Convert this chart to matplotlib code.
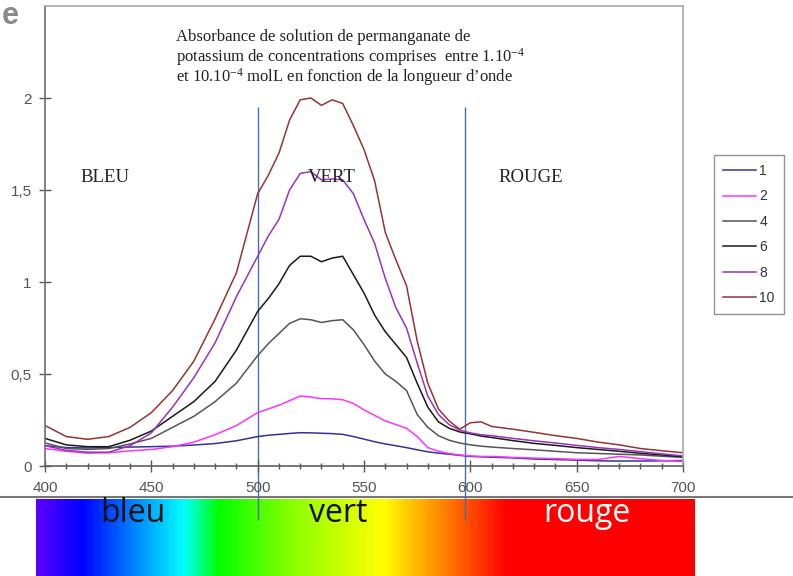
import matplotlib
matplotlib.use("Agg")
import matplotlib.pyplot as plt
import numpy as np
from matplotlib.colors import LinearSegmentedColormap
from matplotlib.lines import Line2D

plt.rcParams['font.family'] = ['Liberation Sans', 'DejaVu Sans']
plt.rcParams['mathtext.fontset'] = 'custom'
plt.rcParams['mathtext.rm'] = 'Liberation Serif'
plt.rcParams['mathtext.default'] = 'rm'

# wavelengths (nm)
wl = [400, 410, 420, 430, 440, 450, 460, 470, 480, 490,
      500, 505, 510, 515, 520, 525, 530, 535, 540, 545, 550,
      555, 560, 565, 570, 575, 580, 585, 590, 595, 600,
      605, 610, 620, 630, 640, 650, 660, 670, 680, 690, 700]

# absorbance for each concentration (x 1e-4 mol/L)
abs_1 = [0.11, 0.10, 0.098, 0.10, 0.103, 0.105, 0.108, 0.114, 0.122, 0.137,
         0.16, 0.167, 0.172, 0.177, 0.181, 0.18, 0.178, 0.176, 0.172, 0.16, 0.146,
         0.132, 0.12, 0.11, 0.10, 0.088, 0.077, 0.07, 0.064, 0.058, 0.052,
         0.05, 0.048, 0.044, 0.038, 0.035, 0.032, 0.028, 0.027, 0.027, 0.028, 0.03]
abs_2 = [0.095, 0.08, 0.07, 0.072, 0.082, 0.09, 0.105, 0.13, 0.17, 0.22,
         0.29, 0.31, 0.33, 0.355, 0.38, 0.375, 0.366, 0.365, 0.36, 0.34, 0.305,
         0.275, 0.245, 0.225, 0.205, 0.16, 0.10, 0.08, 0.068, 0.06, 0.055,
         0.052, 0.052, 0.047, 0.043, 0.04, 0.036, 0.035, 0.052, 0.04, 0.03, 0.025]
abs_4 = [0.125, 0.095, 0.09, 0.095, 0.12, 0.15, 0.21, 0.27, 0.35, 0.45,
         0.60, 0.665, 0.72, 0.775, 0.80, 0.795, 0.78, 0.79, 0.795, 0.74, 0.66,
         0.57, 0.50, 0.46, 0.41, 0.28, 0.21, 0.165, 0.14, 0.125, 0.115,
         0.108, 0.103, 0.095, 0.088, 0.08, 0.072, 0.068, 0.064, 0.06, 0.053, 0.047]
abs_6 = [0.15, 0.115, 0.105, 0.105, 0.14, 0.19, 0.27, 0.35, 0.46, 0.63,
         0.84, 0.91, 0.99, 1.09, 1.14, 1.14, 1.11, 1.13, 1.14, 1.04, 0.94,
         0.82, 0.73, 0.66, 0.59, 0.45, 0.32, 0.24, 0.205, 0.185, 0.175,
         0.163, 0.155, 0.138, 0.123, 0.112, 0.10, 0.09, 0.08, 0.069, 0.06, 0.05]
abs_8 = [0.11, 0.085, 0.075, 0.075, 0.11, 0.18, 0.32, 0.48, 0.67, 0.92,
         1.14, 1.25, 1.34, 1.50, 1.59, 1.60, 1.555, 1.56, 1.555, 1.48, 1.34,
         1.21, 1.02, 0.86, 0.75, 0.56, 0.38, 0.28, 0.225, 0.195, 0.18,
         0.17, 0.165, 0.15, 0.137, 0.125, 0.112, 0.10, 0.09, 0.078, 0.066, 0.055]
abs_10 = [0.22, 0.16, 0.145, 0.16, 0.21, 0.29, 0.41, 0.57, 0.80, 1.05,
          1.48, 1.58, 1.70, 1.88, 1.99, 2.0, 1.96, 1.99, 1.97, 1.85, 1.72,
          1.55, 1.27, 1.12, 0.98, 0.68, 0.45, 0.31, 0.245, 0.20, 0.235,
          0.24, 0.215, 0.20, 0.183, 0.165, 0.15, 0.13, 0.115, 0.095, 0.083, 0.072]

series = [abs_1, abs_2, abs_4, abs_6, abs_8, abs_10]
labels = ["1", "2", "4", "6", "8", "10"]
colors = ["#333399", "#ff33ff", "#555555", "#1a1a1a", "#9933bb", "#993333"]

zone_bounds = [500, 597.5]
zone_names = ["BLEU", "VERT", "ROUGE"]
zone_x = [416.5, 523.6, 613]

y_ticks = [0, 0.5, 1, 1.5, 2]
y_ticklabels = ["0", "0,5", "1", "1,5", "2"]

W, H = 793, 576
fig = plt.figure(figsize=(W / 100, H / 100), dpi=100)

# gray separator line behind the spectrum strip
fig.add_artist(Line2D([0, 1], [1 - 497 / H] * 2, color="#777777", lw=1.5, zorder=0))

# spectrum strip
sax = fig.add_axes([36 / W, 0, 659 / W, 77 / H], zorder=1)
stops = [(0.0, "#5a00ff"), (0.067, "#0000ff"), (0.223, "#00ffff"), (0.276, "#00ff00"),
         (0.387, "#88ff00"), (0.527, "#ffff00"), (0.602, "#ff9900"), (0.715, "#ff0000"),
         (1.0, "#ff0000")]
cmap = LinearSegmentedColormap.from_list("spec", stops)
sax.imshow(np.linspace(0, 1, 600)[None, :], aspect="auto", cmap=cmap, extent=[0, 1, 0, 1])
sax.set_axis_off()
fig.text(133 / W, 1 - 522 / H, "bleu", ha="center", va="baseline", fontsize=23,
         family="Open Sans", color="#111111", zorder=3)
fig.text(338 / W, 1 - 522 / H, "vert", ha="center", va="baseline", fontsize=23,
         family="Open Sans", color="#111111", zorder=3)
fig.text(587 / W, 1 - 522 / H, "rouge", ha="center", va="baseline", fontsize=23,
         family="Open Sans", color="white", zorder=3)

# main chart
ax = fig.add_axes([45 / W, 1 - 466 / H, 638 / W, 460 / H], zorder=2)
ax.patch.set_alpha(0)
for vals, lab, col in zip(series, labels, colors):
    ax.plot(wl, vals, color=col, lw=1.1, label=lab)

ax.vlines(zone_bounds, -0.293, 1.95, color="#4a6fa8", lw=1, clip_on=False, zorder=1)

ax.set_xlim(400, 700)
ax.set_ylim(0, 2.5)
ax.set_xticks(range(400, 701, 50))
ax.set_xticks(range(400, 701, 10), minor=True)
ax.set_yticks(y_ticks)
ax.set_yticklabels(y_ticklabels)
ax.tick_params(axis="x", which="major", direction="inout", length=9, width=1,
               color="#555555", labelsize=11, labelcolor="#555555", pad=6)
ax.tick_params(axis="x", which="minor", direction="inout", length=5, width=1, color="#555555")
ax.tick_params(axis="y", direction="inout", length=9, width=1, color="#555555",
               labelsize=11, labelcolor="#555555", pad=5)
ax.spines["left"].set_color("#707070")
ax.spines["bottom"].set_color("#606060")
ax.spines["top"].set_color("#a8a8a8")
ax.spines["right"].set_color("#a8a8a8")
for s in ax.spines.values():
    s.set_linewidth(1.2)

for name, xpos in zip(zone_names, zone_x):
    ax.text(xpos, 1.543, name, ha="left", va="baseline", fontsize=13.5,
            family="Liberation Serif", color="#222222")

title_lines = ["Absorbance de solution de permanganate de",
               "potassium de concentrations comprises  entre 1.10$^{-4}$",
               "et 10.10$^{-4}$ molL en fonction de la longueur d\u2019onde"]
for line, base in zip(title_lines, [41, 62, 82]):
    fig.text(176 / W, 1 - base / H, line, ha="left", va="baseline", fontsize=12,
             family="Liberation Serif", color="#222222")

# logo fragment in the corner
fig.text(0.002, 0.998, "e", ha="left", va="top", fontsize=22, fontweight="bold",
         color="#8a8a8a")

leg = ax.legend(loc="upper left", bbox_to_anchor=(714 / W, 1 - 155 / H),
                bbox_transform=fig.transFigure, frameon=True, fancybox=False,
                fontsize=10, borderpad=0.65, labelspacing=0.82, handlelength=2.4,
                handletextpad=0.2, borderaxespad=0)
leg.get_frame().set_edgecolor("#777777")
leg.get_frame().set_linewidth(1)
for t in leg.get_texts():
    t.set_color("#333333")

fig.savefig("out.png", dpi=100)
